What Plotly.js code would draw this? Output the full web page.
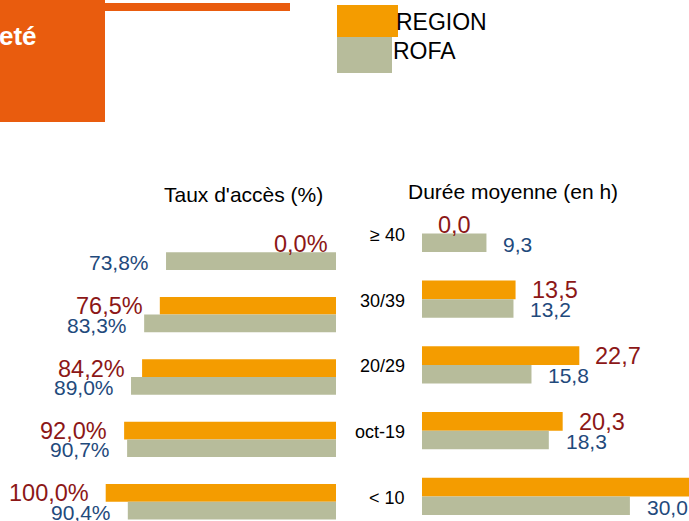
<!DOCTYPE html>
<html>
<head>
<meta charset="utf-8">
<script src="https://cdn.plot.ly/plotly-3.0.1.min.js"></script>
<style>
  html, body { margin: 0; padding: 0; background: #ffffff; overflow: hidden; }
  #chart { width: 689px; height: 521px; }
</style>
</head>
<body>
<div id="chart"></div>
<script>
// ---- data ----
const categories = ['≥ 40', '30/39', '20/29', 'oct-19', '< 10'];
const seriesNames = ['REGION', 'ROFA'];
const regionAcces = [0.0, 76.5, 84.2, 92.0, 100.0];
const rofaAcces = [73.8, 83.3, 89.0, 90.7, 90.4];
const regionDuree = [0.0, 13.5, 22.7, 20.3, 42.0];
const rofaDuree = [9.3, 13.2, 15.8, 18.3, 30.0];
const titleAcces = "Taux d'accès (%)";
const titleDuree = 'Durée moyenne (en h)';
const headerText = 'eté';

// ---- styles ----
const W = 689, H = 521;
const FONT = 'Liberation Sans, Arial, sans-serif';
const ORANGE = '#F49C00';
const GREY = '#B7BC9B';
const RED = '#8C1717';
const BLUE = '#1F4A7C';
const BRAND = '#E95C0E';

const px = p => p / W;
const py = p => 1 - p / H;
const fr = v => v.toFixed(1).replace('.', ',');

const traces = [
  { type: 'bar', orientation: 'h', name: seriesNames[0], y: categories, x: regionAcces,
    xaxis: 'x', yaxis: 'y', marker: { color: ORANGE, line: { width: 0 } }, hoverinfo: 'none' },
  { type: 'bar', orientation: 'h', name: seriesNames[1], y: categories, x: rofaAcces,
    xaxis: 'x', yaxis: 'y', marker: { color: GREY, line: { width: 0 } }, hoverinfo: 'none' },
  { type: 'bar', orientation: 'h', name: seriesNames[0], y: categories, x: regionDuree,
    xaxis: 'x2', yaxis: 'y2', marker: { color: ORANGE, line: { width: 0 } }, hoverinfo: 'none' },
  { type: 'bar', orientation: 'h', name: seriesNames[1], y: categories, x: rofaDuree,
    xaxis: 'x2', yaxis: 'y2', marker: { color: GREY, line: { width: 0 } }, hoverinfo: 'none' }
];

const annotations = [];
const base = { showarrow: false, borderpad: 0, borderwidth: 0 };

// left chart labels
categories.forEach((c, i) => {
  const vr = regionAcces[i];
  annotations.push(Object.assign({}, base, {
    xref: 'x', yref: 'y', x: vr, y: c, xanchor: 'right', yanchor: 'middle',
    xshift: vr === 0 ? -8 : -17, yshift: 8.5,
    text: fr(vr) + '%', font: { family: FONT, size: 23.5, color: RED }
  }));
  const vg = rofaAcces[i];
  annotations.push(Object.assign({}, base, {
    xref: 'x', yref: 'y', x: vg, y: c, xanchor: 'right', yanchor: 'middle',
    xshift: -17, yshift: -10.5,
    text: fr(vg) + '%', font: { family: FONT, size: 21, color: BLUE }
  }));
});

// right chart labels
categories.forEach((c, i) => {
  const vr = regionDuree[i];
  annotations.push(Object.assign({}, base, {
    xref: 'x2', yref: 'y2', x: vr, y: c, xanchor: 'left', yanchor: 'middle',
    xshift: 16, yshift: 8.7,
    text: fr(vr), font: { family: FONT, size: 23.5, color: RED }
  }));
  const vg = rofaDuree[i];
  annotations.push(Object.assign({}, base, {
    xref: 'x2', yref: 'y2', x: vg, y: c, xanchor: 'left', yanchor: 'middle',
    xshift: 17, yshift: -10.6,
    text: fr(vg), font: { family: FONT, size: 21, color: BLUE }
  }));
  // category labels
  annotations.push(Object.assign({}, base, {
    xref: 'x2', yref: 'y2', x: 0, y: c, xanchor: 'right', yanchor: 'middle',
    xshift: -17, yshift: -1.5,
    text: c, font: { family: FONT, size: 18, color: '#000000' }
  }));
});

// titles
annotations.push(Object.assign({}, base, {
  xref: 'paper', yref: 'paper', x: px(243), y: py(194), xanchor: 'center', yanchor: 'middle',
  text: titleAcces, font: { family: FONT, size: 21, color: '#000000' }
}));
annotations.push(Object.assign({}, base, {
  xref: 'paper', yref: 'paper', x: px(513), y: py(191.5), xanchor: 'center', yanchor: 'middle',
  text: titleDuree, font: { family: FONT, size: 21, color: '#000000' }
}));

// legend text
annotations.push(Object.assign({}, base, {
  xref: 'paper', yref: 'paper', x: px(396), y: py(21.5), xanchor: 'left', yanchor: 'middle',
  text: seriesNames[0], font: { family: FONT, size: 23, color: '#000000' }
}));
annotations.push(Object.assign({}, base, {
  xref: 'paper', yref: 'paper', x: px(393), y: py(51.5), xanchor: 'left', yanchor: 'middle',
  text: seriesNames[1], font: { family: FONT, size: 23, color: '#000000' }
}));

// header text
annotations.push(Object.assign({}, base, {
  xref: 'paper', yref: 'paper', x: px(-1), y: py(36), xanchor: 'left', yanchor: 'middle',
  text: '<b>' + headerText + '</b>', font: { family: FONT, size: 26, color: '#ffffff' }
}));

const rect = (x0, y0, x1, y1, color) => ({
  type: 'rect', xref: 'paper', yref: 'paper', x0: px(x0), x1: px(x1), y0: py(y1), y1: py(y0),
  fillcolor: color, line: { width: 0 }, layer: 'below'
});

const shapes = [
  rect(0, 0, 105, 122, BRAND),
  rect(105, 3, 290, 11, BRAND),
  rect(337, 5, 398, 37, ORANGE),
  rect(337, 37, 392, 73, GREY)
];

const hidden = { showgrid: false, zeroline: false, showline: false, showticklabels: false, ticks: '', fixedrange: true };

const layout = {
  width: W, height: H,
  margin: { l: 0, r: 0, t: 0, b: 0, pad: 0 },
  paper_bgcolor: '#ffffff', plot_bgcolor: 'rgba(0,0,0,0)',
  showlegend: false,
  barmode: 'group', bargap: 0.432, bargroupgap: 0,
  xaxis: Object.assign({}, hidden, { domain: [0, 336 / W], range: [336 / 2.303, 0], anchor: 'y' }),
  yaxis: Object.assign({}, hidden, { domain: [0, 1], type: 'category', categoryorder: 'array',
    categoryarray: categories, range: [(H - 252.2) / 62.4, -252.2 / 62.4], anchor: 'x' }),
  xaxis2: Object.assign({}, hidden, { domain: [422 / W, 1], range: [0, (W - 422) / 6.93], anchor: 'y2' }),
  yaxis2: Object.assign({}, hidden, { domain: [0, 1], type: 'category', categoryorder: 'array',
    categoryarray: categories, range: [(H - 233.4) / 65.75, -233.4 / 65.75], anchor: 'x2' }),
  annotations: annotations,
  shapes: shapes,
  font: { family: FONT }
};

Plotly.newPlot('chart', traces, layout, { staticPlot: true, displayModeBar: false });
</script>
</body>
</html>
